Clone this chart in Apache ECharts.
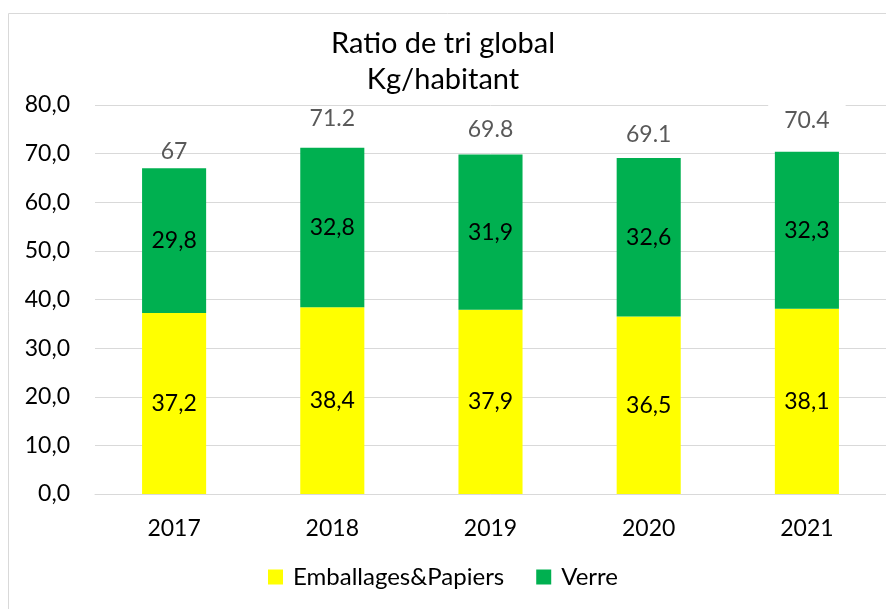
<!DOCTYPE html>
<html>
<head>
<meta charset="utf-8">
<script src="https://cdn.jsdelivr.net/npm/echarts@6/dist/echarts.min.js"></script>
<style>
  html, body { margin: 0; padding: 0; background: #fff; }
  #main { width: 886px; height: 609px; }
</style>
</head>
<body>
<div id="main"></div>
<script>
const years = ['2017', '2018', '2019', '2020', '2021']
const emballages = [37.2, 38.4, 37.9, 36.5, 38.1]
const verre = [29.8, 32.8, 31.9, 32.6, 32.3]
const totals = [67, 71.2, 69.8, 69.1, 70.4]

// la position des étiquettes de total a été déplacée à la main dans l'original
const totalLabelGap = [5, 18, 14, 12, 14]

const font = 'Lato, "Open Sans", sans-serif'

function comma (p) {
  return p.value.toFixed(1).replace('.', ',')
}

let totalData = totals.map((v, i) => {
  let item = { value: v, label: { distance: totalLabelGap[i] } }
  if (i === totals.length - 1) {
    item.label.backgroundColor = '#fff'
    item.label.padding = [6, 16]
  }
  return item
})

let myChart = echarts.init(document.getElementById('main'))
let option = {
  animation: false,
  textStyle: { fontFamily: font },
  graphic: [{
    type: 'rect',
    shape: { x: 8.5, y: 13.5, width: 900, height: 620 },
    style: { fill: 'none', stroke: '#d9d9d9', lineWidth: 1 },
    silent: true
  }],
  title: {
    text: 'Ratio de tri global\nKg/habitant',
    left: 'center',
    top: 21,
    textStyle: {
      fontFamily: font,
      fontSize: 29,
      fontWeight: 'normal',
      color: '#000',
      lineHeight: 36
    }
  },
  legend: {
    data: ['Emballages&Papiers', 'Verre'],
    bottom: 15,
    left: 'center',
    icon: 'rect',
    itemWidth: 15,
    itemHeight: 15,
    itemGap: 32,
    textStyle: { fontFamily: font, fontSize: 24, color: '#000', padding: [0, 0, 0, 5] }
  },
  grid: {
    left: 95,
    top: 105,
    width: 800,
    height: 389
  },
  xAxis: {
    type: 'category',
    data: years,
    axisLine: { lineStyle: { color: '#d9d9d9' } },
    axisTick: { show: false },
    axisLabel: { fontFamily: font, fontSize: 23, color: '#000', margin: 23 }
  },
  yAxis: {
    type: 'value',
    min: 0,
    max: 80,
    interval: 10,
    axisLine: { show: false },
    axisTick: { show: false },
    splitLine: { lineStyle: { color: '#d9d9d9' } },
    axisLabel: {
      fontFamily: font,
      fontSize: 23,
      color: '#000',
      margin: 25,
      formatter: v => v.toFixed(1).replace('.', ',')
    }
  },
  series: [
    {
      name: 'Emballages&Papiers',
      type: 'bar',
      stack: 'tri',
      barWidth: '40.5%',
      data: emballages,
      itemStyle: { color: '#ffff00' },
      label: {
        show: true,
        position: 'inside',
        fontFamily: font,
        fontSize: 23,
        color: '#000',
        formatter: comma
      }
    },
    {
      name: 'Verre',
      type: 'bar',
      stack: 'tri',
      data: verre,
      itemStyle: { color: '#00b050' },
      label: {
        show: true,
        position: 'inside',
        fontFamily: font,
        fontSize: 23,
        color: '#000',
        formatter: comma
      }
    },
    {
      name: 'Total',
      type: 'bar',
      barGap: '-100%',
      barWidth: '40.5%',
      data: totalData,
      z: 1,
      itemStyle: { color: 'rgba(0,0,0,0)' },
      silent: true,
      label: {
        show: true,
        position: 'top',
        fontFamily: font,
        fontSize: 23,
        color: '#595959'
      }
    }
  ]
}
myChart.setOption(option)
</script>
</body>
</html>
